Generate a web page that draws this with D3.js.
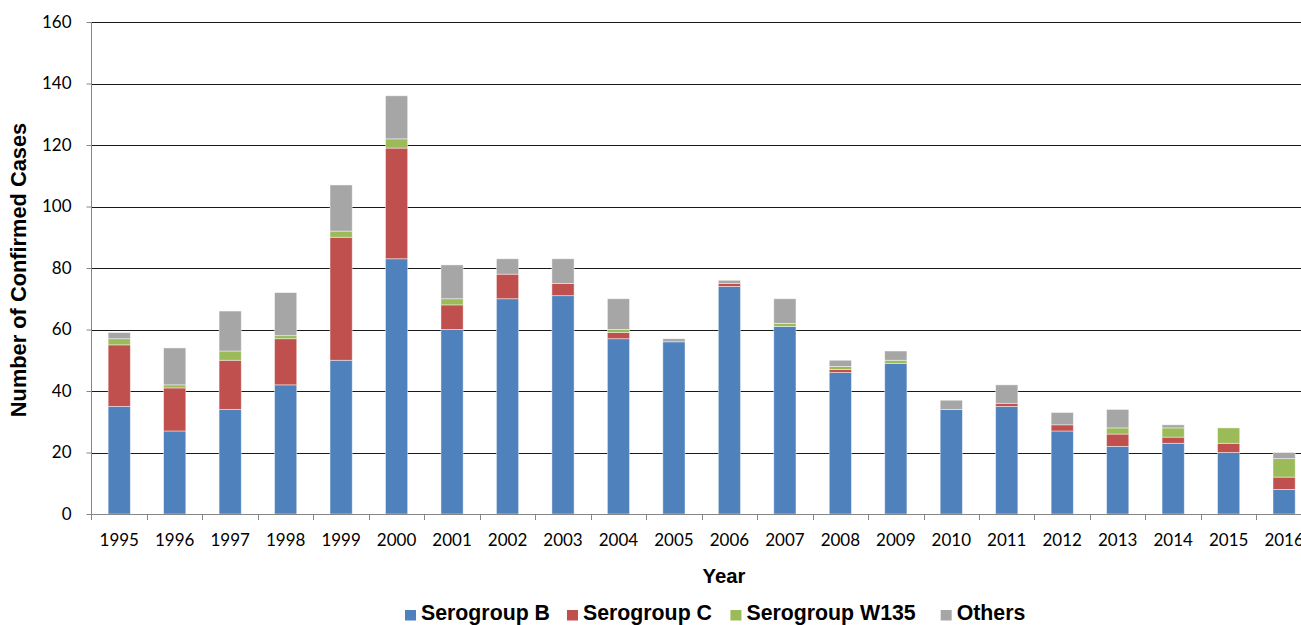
<!DOCTYPE html>
<html>
<head>
<meta charset="utf-8">
<script src="https://cdn.jsdelivr.net/npm/d3@7"></script>
<style>
  html, body { margin: 0; padding: 0; background: #fff; overflow: hidden; }
  svg { display: block; }
</style>
</head>
<body>
<svg id="chart" width="1301" height="625"></svg>
<script>
// ---- data ----
const years = ["1995","1996","1997","1998","1999","2000","2001","2002","2003","2004","2005",
               "2006","2007","2008","2009","2010","2011","2012","2013","2014","2015","2016"];
const serogroupB    = [35,27,34,42,50,83,60,70,71,57,56,74,61,46,49,34,35,27,22,23,20,8];
const serogroupC    = [20,14,16,15,40,36, 8, 8, 4, 2, 0, 1, 0, 1, 0, 0, 1, 2, 4, 2, 3, 4];
const serogroupW135 = [ 2, 1, 3, 1, 2, 3, 2, 0, 0, 1, 0, 0, 1, 1, 1, 0, 0, 0, 2, 3, 5, 6];
const others        = [ 2,12,13,14,15,14,11, 5, 8,10, 1, 1, 8, 2, 3, 3, 6, 4, 6, 1, 0, 2];
const seriesNames = ["Serogroup B","Serogroup C","Serogroup W135","Others"];
const yTicks = [0,20,40,60,80,100,120,140,160];

const colors = ["#4F81BD","#C0504D","#9BBB59","#A6A6A6"];

// ---- table ----
const keys = seriesNames;
const table = years.map((yr, i) => ({
  year: yr,
  "Serogroup B": serogroupB[i],
  "Serogroup C": serogroupC[i],
  "Serogroup W135": serogroupW135[i],
  "Others": others[i]
}));
const stacked = d3.stack().keys(keys)(table);

const svg = d3.select("#chart");
const plotLeft = 91.5, plotTop = 22, plotBottom = 514;
const stepPx = 55.47;
const x = d3.scaleBand().domain(years).range([plotLeft, plotLeft + stepPx * years.length])
  .paddingInner(0.6).paddingOuter(0.3);
const y = d3.scaleLinear().domain([0, 160]).range([plotBottom, plotTop]);

const tickFont = "Lato, 'Open Sans', sans-serif";
const boldFont = "'Liberation Sans', Arial, sans-serif";

// gridlines
svg.append("g")
  .selectAll("line")
  .data(yTicks.filter(d => d > 0))
  .join("line")
  .attr("x1", plotLeft).attr("x2", 1301)
  .attr("y1", d => Math.round(y(d)) + 0.5).attr("y2", d => Math.round(y(d)) + 0.5)
  .attr("stroke", "#1a1a1a").attr("stroke-width", 1.1);

// bars
svg.append("g")
  .selectAll("g")
  .data(stacked)
  .join("g")
  .attr("fill", (d, i) => colors[i])
  .selectAll("rect")
  .data(d => d.filter(s => s[1] - s[0] > 0))
  .join("rect")
  .attr("x", d => x(d.data.year))
  .attr("width", x.bandwidth())
  .attr("y", d => y(d[1]))
  .attr("height", d => y(d[0]) - y(d[1]))
  .attr("stroke", "#ffffff")
  .attr("stroke-opacity", 0.55)
  .attr("stroke-width", 0.8);

// y axis
const yAxis = svg.append("g")
  .attr("transform", `translate(${plotLeft},0)`)
  .call(d3.axisLeft(y).tickValues(yTicks).tickSize(5).tickPadding(15).tickSizeOuter(0));
yAxis.select(".domain").attr("stroke", "#868686").attr("d", `M0,${plotTop}V${plotBottom + 6}`);
yAxis.selectAll(".tick line").attr("stroke", "#868686");
yAxis.selectAll(".tick text")
  .attr("font-family", tickFont).attr("font-size", 17).attr("fill", "#000");

// x axis
const xAxis = svg.append("g")
  .attr("transform", `translate(0,${plotBottom})`)
  .call(d3.axisBottom(x).tickSize(0).tickPadding(0).tickSizeOuter(0));
xAxis.select(".domain").attr("stroke", "#868686").attr("d", `M${plotLeft},0.5H1301`);
xAxis.selectAll(".tick text")
  .attr("font-family", tickFont).attr("font-size", 17).attr("fill", "#000")
  .attr("y", 32).attr("dy", 0);

// x ticks at category boundaries
const stepW = x.step();
const boundaries = years.map(yr => x(yr) - (stepW - x.bandwidth()) / 2);
svg.append("g")
  .selectAll("line")
  .data(boundaries.slice(1))
  .join("line")
  .attr("x1", d => Math.round(d) + 0.5).attr("x2", d => Math.round(d) + 0.5)
  .attr("y1", plotBottom).attr("y2", plotBottom + 6)
  .attr("stroke", "#868686");

// axis titles
svg.append("text")
  .attr("x", 724).attr("y", 583)
  .attr("text-anchor", "middle")
  .attr("font-family", boldFont).attr("font-weight", "bold").attr("font-size", 20.3)
  .text("Year");

svg.append("text")
  .attr("transform", "translate(26,270) rotate(-90)")
  .attr("text-anchor", "middle")
  .attr("font-family", boldFont).attr("font-weight", "bold").attr("font-size", 21.8)
  .text("Number of Confirmed Cases");

// legend
const legend = svg.append("g");
let lx = 405;
const gaps = [17, 18.5, 25];
seriesNames.forEach((name, i) => {
  legend.append("rect")
    .attr("x", lx).attr("y", 610).attr("width", 11).attr("height", 10.5)
    .attr("fill", colors[i]);
  const t = legend.append("text")
    .attr("x", lx + 16).attr("y", 620)
    .attr("font-family", boldFont).attr("font-weight", "bold").attr("font-size", 21.3)
    .text(name);
  const w = t.node().getComputedTextLength();
  lx = lx + 16 + w + (gaps[i] || 0);
});
</script>
</body>
</html>
